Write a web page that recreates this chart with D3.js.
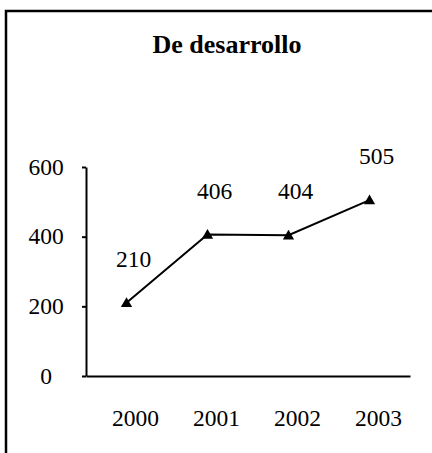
<!DOCTYPE html>
<html>
<head>
<meta charset="utf-8">
<script src="https://cdn.jsdelivr.net/npm/d3@7"></script>
<style>
  body { margin: 0; background: #fff; }
  svg text { font-family: "Liberation Serif", "Times New Roman", serif; fill: #000; }
</style>
</head>
<body>
<div id="chart"></div>
<script>
// data
var years = ["2000", "2001", "2002", "2003"];
var values = [210, 406, 404, 505];
var yTicks = [0, 200, 400, 600];
var title = "De desarrollo";

var width = 432, height = 453;
var fs = "23.5px";

var svg = d3.select("#chart").append("svg")
    .attr("width", width)
    .attr("height", height);

// frame (runs off the right and bottom edge)
svg.append("rect")
    .attr("x", 6).attr("y", 11)
    .attr("width", width).attr("height", height)
    .attr("fill", "none")
    .attr("stroke", "#000")
    .attr("stroke-width", 2.5);

svg.append("text")
    .attr("x", 227).attr("y", 53)
    .attr("text-anchor", "middle")
    .style("font-size", "26px")
    .style("font-weight", "bold")
    .text(title);

var x = d3.scaleBand().domain(years).range([86, 410]);
var y = d3.scaleLinear().domain([0, 600]).range([376, 167]);

// y axis
var yAxis = svg.append("g")
    .attr("transform", "translate(86,0)")
    .call(d3.axisLeft(y).tickValues(yTicks).tickSize(4).tickSizeOuter(0));
yAxis.select(".domain").attr("stroke-width", 2);
yAxis.selectAll("line").attr("stroke-width", 2);
yAxis.selectAll("text")
    .attr("x", -40).attr("dy", "0.3em")
    .attr("text-anchor", "middle")
    .style("font-size", fs)
    .style("font-family", "Liberation Serif, serif");

// x axis
var xAxis = svg.append("g")
    .attr("transform", "translate(0,376)")
    .call(d3.axisBottom(x).tickSize(0).tickSizeOuter(0));
xAxis.select(".domain").attr("stroke-width", 2);
xAxis.selectAll("text")
    .attr("y", 0).attr("dy", 50).attr("dx", 9)
    .style("font-size", fs)
    .style("font-family", "Liberation Serif, serif");

var cx = function(d, i) { return x(years[i]) + x.bandwidth() / 2; };

var line = d3.line()
    .x(function(d, i) { return cx(d, i); })
    .y(function(d) { return y(d); });

svg.append("path")
    .datum(values)
    .attr("fill", "none")
    .attr("stroke", "#000")
    .attr("stroke-width", 2)
    .attr("d", line);

svg.selectAll("path.marker")
    .data(values)
    .enter().append("path")
    .attr("class", "marker")
    .attr("d", d3.symbol().type(d3.symbolTriangle).size(55))
    .attr("transform", function(d, i) { return "translate(" + cx(d, i) + "," + (y(d) + 1) + ")"; })
    .attr("fill", "#000");

svg.selectAll("text.lbl")
    .data(values)
    .enter().append("text")
    .attr("class", "lbl")
    .attr("x", function(d, i) { return cx(d, i) + 7; })
    .attr("y", function(d) { return y(d) - 36; })
    .attr("text-anchor", "middle")
    .style("font-size", fs)
    .text(function(d) { return d; });
</script>
</body>
</html>
